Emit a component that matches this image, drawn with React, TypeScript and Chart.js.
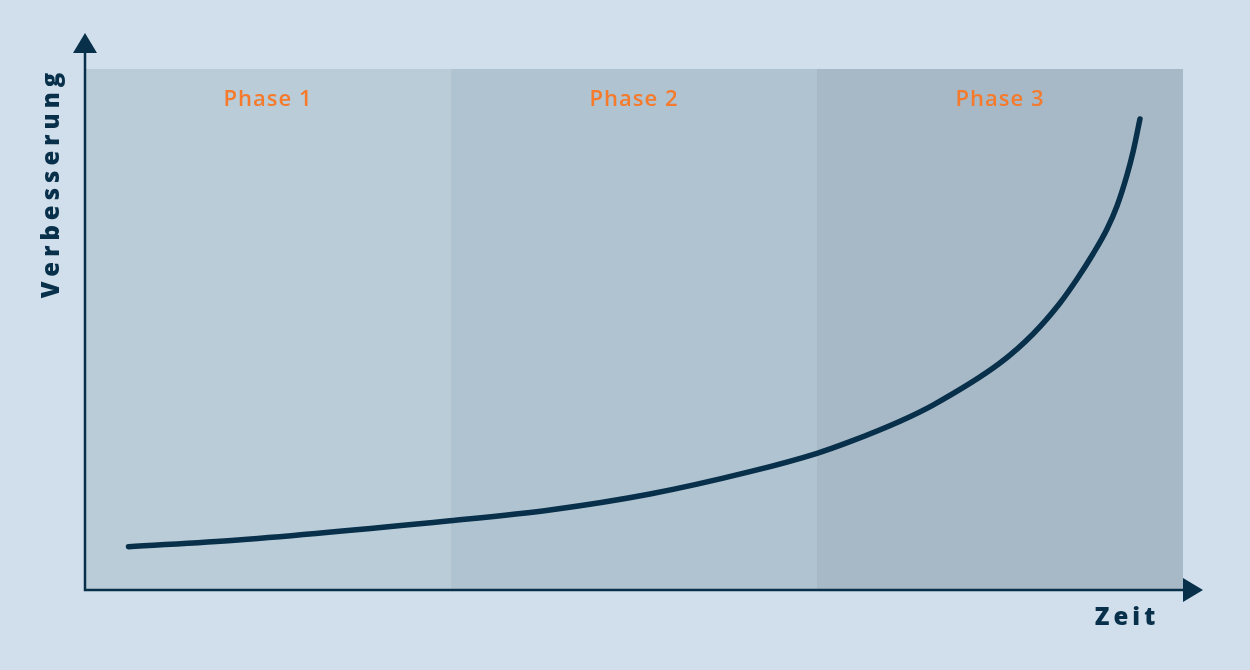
import React, { useEffect, useRef } from "react";
import Chart from "chart.js/auto";
import type { Plugin } from "chart.js";

// Kurvenpunkte: x = Zeit (0..100), y = Verbesserung (0..100)
const timeValues = [3.96, 13.93, 33.24, 42.35, 51.46, 60.56, 66.67, 69.67, 74.23, 77.23, 83.33, 86.34, 88.8, 90.35, 91.8, 93.08, 93.99, 94.9, 95.45, 96.08];
const improvementValues = [8.31, 9.6, 13.3, 15.36, 18.42, 22.71, 26.24, 28.47, 32.4, 35.5, 43.57, 49.14, 55.09, 59.69, 64.49, 69.29, 73.7, 79.65, 84.07, 90.4];

const phaseLabels = ["Phase 1", "Phase 2", "Phase 3"];
const phaseBounds = [0, 100 / 3, 200 / 3, 100];
const phaseColors = ["#b9ccd8", "#b0c3d1", "#a7b9c7"];

const xAxisTitle = "Zeit";
const yAxisTitle = "Verbesserung";

const DARK = "#08304a";
const ORANGE = "#f57a2c";

const phasesPlugin: Plugin = {
  id: "phases",
  beforeDatasetsDraw(chart) {
    const { ctx, chartArea, scales } = chart;
    const x = scales.x;
    ctx.save();
    phaseLabels.forEach((label, i) => {
      const x0 = x.getPixelForValue(phaseBounds[i]);
      const x1 = x.getPixelForValue(phaseBounds[i + 1]);
      ctx.fillStyle = phaseColors[i];
      ctx.fillRect(x0, chartArea.top, x1 - x0, chartArea.bottom - chartArea.top);
      ctx.fillStyle = ORANGE;
      ctx.font = "600 22px 'Open Sans'";
      ctx.textAlign = "center";
      ctx.textBaseline = "middle";
      (ctx as any).letterSpacing = "1px";
      ctx.fillText(label, (x0 + x1) / 2, chartArea.top + 31);
    });
    ctx.restore();
  },
};

const axesPlugin: Plugin = {
  id: "arrowAxes",
  afterDraw(chart) {
    const { ctx, chartArea } = chart;
    const { left, bottom, right, top } = chartArea;
    ctx.save();
    ctx.strokeStyle = DARK;
    ctx.fillStyle = DARK;
    ctx.lineWidth = 2.5;
    ctx.beginPath();
    ctx.moveTo(left, top - 18);
    ctx.lineTo(left, bottom);
    ctx.lineTo(right + 2, bottom);
    ctx.stroke();

    // Pfeilspitzen
    ctx.beginPath();
    ctx.moveTo(left, top - 36);
    ctx.lineTo(left - 12, top - 16);
    ctx.lineTo(left + 12, top - 16);
    ctx.closePath();
    ctx.fill();
    ctx.beginPath();
    ctx.moveTo(right + 20, bottom);
    ctx.lineTo(right, bottom - 12);
    ctx.lineTo(right, bottom + 12);
    ctx.closePath();
    ctx.fill();

    ctx.font = "800 24px 'Open Sans'";
    ctx.textBaseline = "middle";
    ctx.textAlign = "center";
    (ctx as any).letterSpacing = "4px";
    ctx.fillText(xAxisTitle, right - 56, bottom + 28);

    (ctx as any).letterSpacing = "5px";
    ctx.translate(left - 33, top + 114);
    ctx.rotate(-Math.PI / 2);
    ctx.fillText(yAxisTitle, 0, 0);
    ctx.restore();
  },
};

const CurveChart: React.FC = () => {
  const canvasRef = useRef<HTMLCanvasElement | null>(null);
  const chartRef = useRef<Chart | null>(null);

  useEffect(() => {
    if (!canvasRef.current) {
      return;
    }
    if (chartRef.current) {
      chartRef.current.destroy();
    }
    const ctx = canvasRef.current.getContext("2d");
    if (!ctx) {
      return;
    }

    chartRef.current = new Chart(ctx, {
      type: "line",
      data: {
        datasets: [
          {
            data: timeValues.map((t, i) => ({ x: t, y: improvementValues[i] })),
            borderColor: DARK,
            borderWidth: 5.5,
            borderCapStyle: "round",
            borderJoinStyle: "round",
            pointRadius: 0,
            cubicInterpolationMode: "monotone",
            fill: false,
          },
        ],
      },
      options: {
        animation: false,
        responsive: false,
        maintainAspectRatio: false,
        layout: { padding: { left: 85, top: 69, right: 67, bottom: 80 } },
        plugins: {
          legend: { display: false },
          tooltip: { enabled: false },
        },
        scales: {
          x: { type: "linear", min: 0, max: 100, display: false },
          y: { type: "linear", min: 0, max: 100, display: false },
        },
      },
      plugins: [phasesPlugin, axesPlugin],
    });

    return () => {
      if (chartRef.current) {
        chartRef.current.destroy();
        chartRef.current = null;
      }
    };
  }, []);

  return <canvas ref={canvasRef} width={1250} height={670} style={{ display: "block" }}></canvas>;
};

export default function App() {
  return (
    <div style={{ position: "absolute", left: 0, top: 0, width: 1250, height: 670, background: "#d0dfeb" }}>
      <CurveChart />
    </div>
  );
}
